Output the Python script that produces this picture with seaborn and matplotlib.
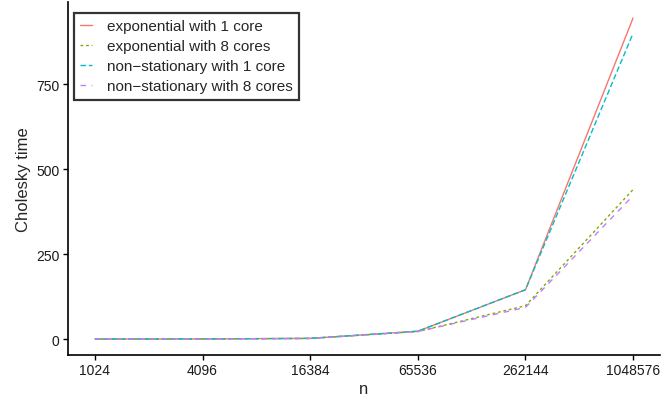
import matplotlib
matplotlib.use("Agg")
import matplotlib.pyplot as plt
import seaborn as sns
import pandas as pd

n_values = [1024, 4096, 16384, 65536, 262144, 1048576]
exp_1core = [0.05, 0.3, 2.0, 23.0, 145.0, 945.0]
exp_8cores = [0.05, 0.25, 1.6, 22.0, 98.0, 440.0]
nonstat_1core = [0.05, 0.3, 2.0, 23.0, 145.0, 900.0]
nonstat_8cores = [0.05, 0.25, 1.6, 22.0, 93.0, 422.0]
labels = ["exponential with 1 core", "exponential with 8 cores",
          "non\u2212stationary with 1 core", "non\u2212stationary with 8 cores"]
colors = ["#F8766D", "#7CAE00", "#00BFC4", "#C77CFF"]
dash_styles = ["", (2, 2), (4, 2), (4, 4)]

rows = []
for lab, vals in zip(labels, [exp_1core, exp_8cores, nonstat_1core, nonstat_8cores]):
    for n, v in zip(n_values, vals):
        rows.append({"n": n, "time": v, "series": lab})
df = pd.DataFrame(rows)

sns.set_style("ticks")
plt.rcParams['font.family'] = ['Liberation Sans', 'DejaVu Sans']

fig = plt.figure(figsize=(6.61, 4.02), dpi=100)
ax = fig.add_axes([68/661, 46/402, (660-68)/661, (356-3)/402])

sns.lineplot(data=df, x="n", y="time", hue="series", style="series",
             hue_order=labels, style_order=labels,
             palette=dict(zip(labels, colors)),
             dashes=dict(zip(labels, dash_styles)),
             linewidth=1.0, ax=ax)

ax.set_xscale("log", base=2)
ax.set_xticks(n_values)
ax.set_xticklabels([str(v) for v in n_values])
ax.minorticks_off()
ax.set_xlim(1024 / 2 ** (10 * 0.05), 1048576 * 2 ** (10 * 0.05))
ax.set_ylim(-47, 992)
ax.set_yticks([0, 250, 500, 750])
ax.tick_params(axis="both", labelsize=10, colors="black", length=3.5, width=1.0,
               labelcolor="#1a1a1a", pad=2.5)
for side in ["top", "right"]:
    ax.spines[side].set_visible(False)
for side in ["left", "bottom"]:
    ax.spines[side].set_linewidth(1.2)
    ax.spines[side].set_color("black")
ax.set_xlabel("n", fontsize=12, labelpad=3)
ax.set_ylabel("Cholesky time", fontsize=12, labelpad=4)

leg = ax.legend(loc="upper left", bbox_to_anchor=(0.010, 0.97), fontsize=11,
                frameon=True, fancybox=False, handlelength=0.75, borderpad=0.42,
                labelspacing=0.4, handletextpad=1.0, borderaxespad=0, title=None)
leg.get_frame().set_edgecolor("black")
leg.get_frame().set_linewidth(1.6)

fig.savefig("out.png", dpi=100)
